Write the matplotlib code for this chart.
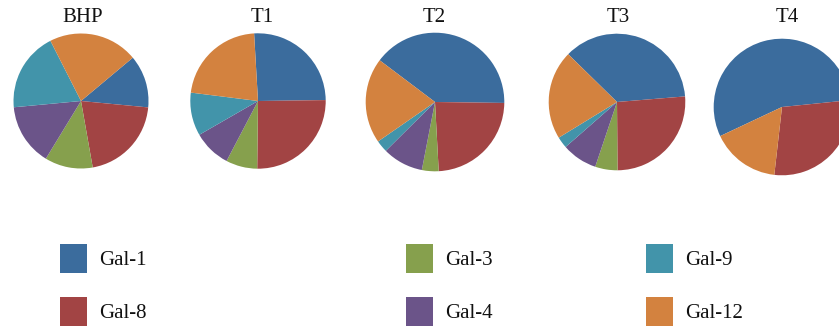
import matplotlib
matplotlib.use("Agg")
import matplotlib.pyplot as plt
from matplotlib.patches import Patch

# ---- data ----
series = ["Gal-1", "Gal-8", "Gal-3", "Gal-4", "Gal-9", "Gal-12"]
samples = ["BHP", "T1", "T2", "T3", "T4"]
bhp = [12.6, 20.7, 11.5, 14.8, 19.0, 21.4]
t1 = [25.7, 25.4, 7.5, 9.0, 10.3, 22.1]
t2 = [39.9, 23.9, 3.9, 9.5, 2.8, 19.9]
t3 = [36.4, 26.2, 5.3, 8.4, 2.7, 21.1]
t4 = [55.4, 28.4, 0.0, 0.0, 0.0, 16.2]
values = [bhp, t1, t2, t3, t4]

# ---- style ----
colors = ["#3B6C9D", "#A24444", "#86A04D", "#6B5489", "#4294AA", "#D3823F"]
W, H = 839, 329
centers = [(81, 101), (258, 101), (435, 102), (617, 102), (782, 107)]
radii = [67.5, 67.7, 69.3, 68.3, 68.3]
start_angles = [39.9, 93.3, 143.0, 135.6, 205.2]
title_x = [83, 262, 434, 618, 787]
title_base = 22.5
serif = ["Liberation Serif", "DejaVu Serif"]

fig = plt.figure(figsize=(W / 100, H / 100), dpi=100)
fig.patch.set_facecolor("white")

for name, vals, (cx, cy), r, sa, tx in zip(samples, values, centers, radii,
                                           start_angles, title_x):
    ax = fig.add_axes([(cx - r) / W, (H - cy - r) / H, 2 * r / W, 2 * r / H])
    ax.pie(vals, colors=colors, startangle=sa, counterclock=False,
           radius=1.0, wedgeprops=dict(linewidth=0))
    ax.set_xlim(-1, 1)
    ax.set_ylim(-1, 1)
    ax.set_aspect("equal", adjustable="box")
    ax.axis("off")
    fig.text(tx / W, 1 - title_base / H, name, ha="center", va="baseline",
             fontsize=15, family=serif, color="#111111")

# ---- legends: three columns of two ----
handles = [Patch(facecolor=c, edgecolor="none") for c in colors]
col_x = [60, 406, 646]
for k, x in enumerate(col_x):
    hs = handles[2 * k:2 * k + 2]
    ls = series[2 * k:2 * k + 2]
    leg = fig.legend(hs, ls, loc="upper left",
                     bbox_to_anchor=(x / W, 1 - 244 / H),
                     frameon=False, borderpad=0, borderaxespad=0,
                     handlelength=1.3, handleheight=1.77,
                     handletextpad=0.58, labelspacing=1.15,
                     prop={"family": serif, "size": 15})
    for t in leg.get_texts():
        t.set_color("#111111")

fig.savefig("out.png", dpi=100, facecolor="white")
